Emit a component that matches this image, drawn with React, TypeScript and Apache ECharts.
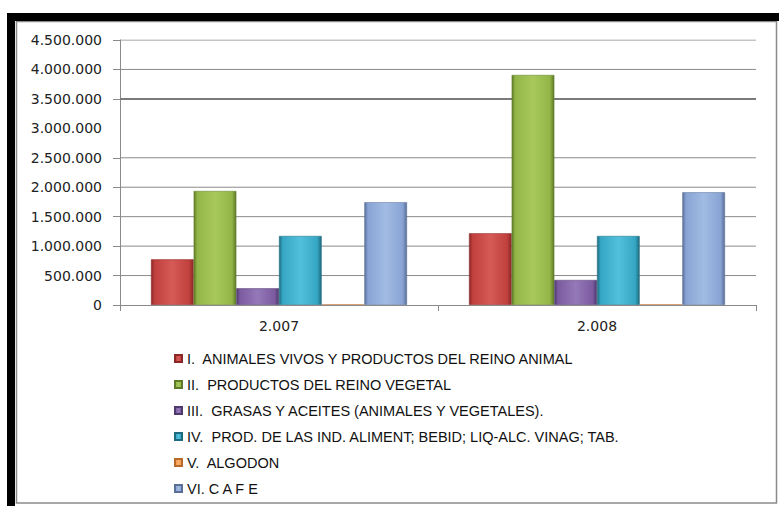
import React, { useEffect, useRef } from "react";
import * as echarts from "echarts";

const categories = ["2.007", "2.008"];
const seriesNames = [
  "I.  ANIMALES VIVOS Y PRODUCTOS DEL REINO ANIMAL",
  "II.  PRODUCTOS DEL REINO VEGETAL",
  "III.  GRASAS Y ACEITES (ANIMALES Y VEGETALES).",
  "IV.  PROD. DE LAS IND. ALIMENT; BEBID; LIQ-ALC. VINAG; TAB.",
  "V.  ALGODON",
  "VI. C A F E",
];
const animales = [775000, 1218000];
const vegetal = [1936000, 3906000];
const grasas = [283000, 425000];
const alimentos = [1172000, 1172000];
const algodon = [8000, 8000];
const cafe = [1745000, 1914000];
const seriesData = [animales, vegetal, grasas, alimentos, algodon, cafe];

const yMin = 0;
const yMax = 4500000;
const yStep = 500000;
// gridlines / ticks visible in the reference (the 3.000.000 one is absent, 3.500.000 is heavier)
const thinGridValues = [500000, 1000000, 1500000, 2000000, 2500000, 4000000, 4500000];
const thickGridValues = [3500000];
const tickValues = [0, 500000, 1000000, 1500000, 2000000, 2500000, 3500000, 4000000, 4500000];

const baseColors = ["#C0403D", "#93B547", "#7C5BA0", "#35A6C4", "#F79646", "#88A4D4"];
const lightColors = ["#D65A56", "#A8C85C", "#9479B8", "#52C0DC", "#FAB070", "#A2BBE4"];
const darkColors = ["#8A2826", "#5F7B28", "#50396E", "#1E6A7E", "#B86A2A", "#596F98"];

function fmt(v: number): string {
  return String(Math.round(v)).replace(/\B(?=(\d{3})+(?!\d))/g, ".");
}

export default function App() {
  const ref = useRef<HTMLDivElement>(null);
  useEffect(() => {
    if (!ref.current) return;
    const chart = echarts.init(ref.current, null, { renderer: "svg" });
    const series: any[] = seriesData.map((d, i) => ({
      name: seriesNames[i],
      type: "bar",
      data: d,
      xAxisIndex: 0,
      barGap: "0%",
      barCategoryGap: "19.5%",
      z: 3,
      itemStyle: {
        color: new echarts.graphic.LinearGradient(0, 0, 1, 0, [
          { offset: 0, color: darkColors[i] },
          { offset: 0.08, color: baseColors[i] },
          { offset: 0.5, color: lightColors[i] },
          { offset: 0.9, color: baseColors[i] },
          { offset: 1, color: darkColors[i] },
        ]),
        borderColor: darkColors[i],
        borderWidth: 0.5,
      },
    }));
    const gridSeries = (v: number, width: number, color: string) => ({
      name: "grid-" + v,
      type: "line",
      xAxisIndex: 1,
      yAxisIndex: 0,
      data: [[0, v], [1, v]],
      symbol: "none",
      silent: true,
      z: 1,
      lineStyle: { color, width, type: "solid" },
      emphasis: { disabled: true },
      tooltip: { show: false },
    });
    thinGridValues.forEach((v) => series.push(gridSeries(v, 1, "#8a8a8a")));
    thickGridValues.forEach((v) => series.push(gridSeries(v, 2, "#7a7a7a")));
    chart.setOption({
      animation: false,
      backgroundColor: "#ffffff",
      color: baseColors,
      grid: { left: 120, right: 23, top: 40, bottom: 201, containLabel: false },
      graphic: [
        { type: "rect", shape: { x: 16.5, y: 21.5, width: 760, height: 481.5 }, style: { fill: "none", stroke: "#8a8a8a", lineWidth: 1.5 }, silent: true },
        { type: "rect", shape: { x: 7, y: 13, width: 772, height: 8 }, style: { fill: "#000" }, silent: true },
        { type: "rect", shape: { x: 7, y: 13, width: 8, height: 493 }, style: { fill: "#000" }, silent: true },
      ],
      legend: {
        orient: "vertical",
        left: 169,
        top: 346,
        itemWidth: 7,
        itemHeight: 7,
        itemGap: 11,
        icon: "rect",
        textStyle: { fontFamily: "Liberation Sans, Arial, sans-serif", fontSize: 14.5, lineHeight: 14, color: "#111" },
        data: seriesNames,
      },
      xAxis: [
        {
          type: "category",
          data: categories,
          axisLine: { lineStyle: { color: "#8a8a8a", width: 1 } },
          axisTick: { show: true, length: 6, lineStyle: { color: "#8a8a8a" } },
          axisLabel: { margin: 14, fontFamily: "DejaVu Sans, Verdana, sans-serif", fontSize: 14, color: "#222" },
          z: 4,
        },
        {
          type: "value",
          min: 0,
          max: 1,
          show: false,
          splitLine: { show: false },
        },
      ],
      yAxis: {
        type: "value",
        min: yMin,
        max: yMax,
        interval: yStep,
        axisLine: { show: true, lineStyle: { color: "#8a8a8a", width: 1 } },
        axisTick: { show: true, length: 7, lineStyle: { color: "#8a8a8a" }, customValues: tickValues },
        axisLabel: { margin: 18, fontFamily: "DejaVu Sans, Verdana, sans-serif", fontSize: 14, color: "#222", formatter: (v: number) => fmt(v) },
        splitLine: { show: false },
      },
      series,
    });
    return () => chart.dispose();
  }, []);
  return <div ref={ref} style={{ position: "absolute", left: 0, top: 0, width: 779, height: 506 }} />;
}
